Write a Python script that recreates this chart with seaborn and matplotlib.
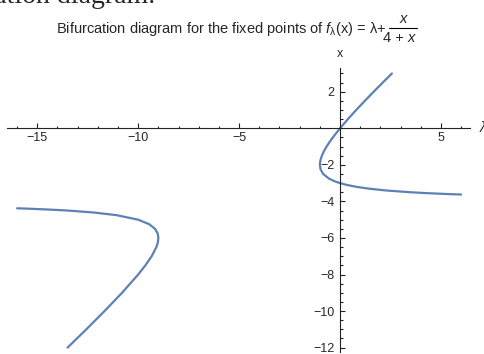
import matplotlib
matplotlib.use("Agg")
import matplotlib.pyplot as plt
import seaborn as sns
from matplotlib.ticker import FixedLocator, MultipleLocator

# fixed points: (lambda, x) pairs per branch
right_x = [3.0, 2.5, 2.0, 1.5, 1.0, 0.5, 0.0, -0.5, -0.75, -1.0, -1.25, -1.5,
           -1.75, -2.0, -2.25, -2.5, -2.75, -2.9, -3.0, -3.1, -3.2, -3.3,
           -3.4, -3.5, -3.55, -3.6, -3.623]
right_lam = [2.571, 2.115, 1.667, 1.227, 0.8, 0.389, 0.0, -0.357, -0.519,
             -0.667, -0.795, -0.9, -0.972, -1.0, -0.964, -0.833, -0.55,
             -0.264, 0.0, 0.344, 0.8, 1.414, 2.267, 3.5, 4.339, 5.4, 6.0]
left_x = [-4.377, -4.4, -4.45, -4.5, -4.6, -4.75, -5.0, -5.25, -5.5, -5.75,
          -6.0, -6.25, -6.5, -7.0, -7.5, -8.0, -9.0, -10.0, -11.0, -12.0]
left_lam = [-16.0, -15.4, -14.339, -13.5, -12.267, -11.083, -10.0, -9.45,
            -9.167, -9.036, -9.0, -9.028, -9.1, -9.333, -9.643, -10.0, -10.8,
            -11.667, -12.571, -13.5]

x_major = [-15, -10, -5, 5]
y_major = [-12, -10, -8, -6, -4, -2, 2]

sns.set_style("white")
plt.rcParams['font.family'] = ['Liberation Sans', 'DejaVu Sans']
plt.rcParams['mathtext.fontset'] = 'custom'
plt.rcParams['mathtext.rm'] = 'Liberation Sans'
plt.rcParams['mathtext.it'] = 'Liberation Sans:italic'

line_color = '#5E81B5'
W, H = 484, 354

fig = plt.figure(figsize=(4.84, 3.54), dpi=100)
ax = fig.add_axes([7 / W, 2 / H, 463 / W, 284 / H])

sns.lineplot(x=right_lam, y=right_x, sort=False, estimator=None, ax=ax,
             color=line_color, lw=1.6)
sns.lineplot(x=left_lam, y=left_x, sort=False, estimator=None, ax=ax,
             color=line_color, lw=1.6)

ax.set_xlim(-16.5, 6.44)
ax.set_ylim(-12.24, 3.30)

# Mathematica style axes crossing at the origin
for side in ['top', 'right']:
    ax.spines[side].set_visible(False)
for side in ['left', 'bottom']:
    ax.spines[side].set_position(('data', 0))
    ax.spines[side].set_color('#222222')
    ax.spines[side].set_linewidth(0.8)

ax.xaxis.set_major_locator(FixedLocator(x_major))
ax.xaxis.set_minor_locator(MultipleLocator(1))
ax.yaxis.set_major_locator(FixedLocator(y_major))
ax.yaxis.set_minor_locator(MultipleLocator(0.5))
ax.set_xticklabels([f"\u2212{abs(v)}" if v < 0 else str(v) for v in x_major])
ax.set_yticklabels([f"\u2212{abs(v)}" if v < 0 else str(v) for v in y_major])

ax.tick_params(axis='both', which='both', direction='in', color='#222222',
               labelsize=9, width=0.8, bottom=True, left=True)
ax.tick_params(axis='x', which='major', length=3.3, pad=3)
ax.tick_params(axis='x', which='minor', length=1.8)
ax.tick_params(axis='y', which='major', length=3.6, pad=4)
ax.tick_params(axis='y', which='minor', length=2.0)
ax.set_xlabel("")
ax.set_ylabel("")
ax.grid(False)

fig.text(340 / W, 1 - 54 / H, "x", ha='center', va='center', fontsize=9)
fig.text(480 / W, 1 - 128 / H, "\u03bb", ha='left', va='center',
         fontsize=10, style='italic')

# title, with the fraction set by hand like the notebook output
title_fs = 10.5
fig.text(386 / W, 1 - 33 / H,
         r"Bifurcation diagram for the fixed points of "
         r"$\mathit{f}_{\mathrm{\lambda}}$(x) = " "\u03bb+",
         ha='right', va='baseline', fontsize=title_fs)
fig.text(403 / W, 1 - 23 / H, "x", ha='center', va='baseline',
         fontsize=title_fs, style='italic')
fig.lines.append(plt.Line2D([389 / W, 417 / W], [1 - 27.7 / H, 1 - 27.7 / H],
                            transform=fig.transFigure, color='black', lw=0.8))
fig.text(408 / W, 1 - 42 / H, "4 + ", ha='right', va='baseline',
         fontsize=title_fs)
fig.text(408 / W, 1 - 42 / H, "x", ha='left', va='baseline',
         fontsize=title_fs, style='italic')

# cut-off page text above the figure
fig.text(155 / W, 1 - 3 / H, "bifurcation diagram.", ha='right',
         va='baseline', family='Liberation Serif', fontsize=20)

fig.savefig("out.png", dpi=100)
